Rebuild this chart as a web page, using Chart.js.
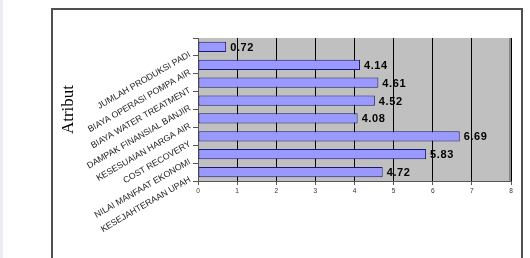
<!DOCTYPE html>
<html>
<head>
<meta charset="utf-8">
<script src="https://cdn.jsdelivr.net/npm/chart.js@4.4.1/dist/chart.umd.min.js"></script>
<style>
  html, body { margin: 0; padding: 0; background: #fff; }
  #wrap { position: relative; width: 530px; height: 258px; overflow: hidden; }
  #strip { position: absolute; left: 0; top: 0; width: 3px; height: 258px; background: #ececf2; }
  #frame { position: absolute; left: 51px; top: 8px; width: 468px; height: 260px; border: 2px solid #505050; }
  #chart { position: absolute; left: 0; top: 0; }
</style>
</head>
<body>
<div id="wrap">
  <div id="strip"></div>
  <div id="frame"></div>
  <canvas id="chart" width="530" height="258"></canvas>
</div>
<script>
// Data
const categories = [
  'JUMLAH PRODUKSI PADI',
  'BIAYA OPERASI POMPA AIR',
  'BIAYA WATER TREATMENT',
  'DAMPAK FINANSIAL BANJIR',
  'KESESUAIAN HARGA AIR',
  'COST RECOVERY',
  'NILAI MANFAAT EKONOMI',
  'KESEJAHTERAAN UPAH'
];
const values = [0.72, 4.14, 4.61, 4.52, 4.08, 6.69, 5.83, 4.72];
const xTicks = [0, 1, 2, 3, 4, 5, 6, 7, 8];

// Gray plot background
const plotBg = {
  id: 'plotBg',
  beforeDraw(chart) {
    const { ctx, chartArea: a } = chart;
    ctx.save();
    ctx.fillStyle = '#c0c0c0';
    ctx.fillRect(a.left, a.top, a.right - a.left, a.bottom - a.top);
    ctx.fillStyle = '#8a8a8a';
    ctx.fillRect(a.right - 2, a.top, 2, a.bottom - a.top);
    ctx.restore();
  }
};

// Value labels at the end of each bar
const valueLabels = {
  id: 'valueLabels',
  afterDatasetsDraw(chart) {
    const { ctx } = chart;
    const meta = chart.getDatasetMeta(0);
    ctx.save();
    ctx.font = 'bold 11px "Liberation Sans", Arial, sans-serif';
    ctx.letterSpacing = '0.6px';
    ctx.fillStyle = '#000';
    ctx.textAlign = 'left';
    ctx.textBaseline = 'middle';
    meta.data.forEach((bar, i) => {
      ctx.fillText(values[i].toFixed(2), bar.x + 4, bar.y + 1);
    });
    ctx.restore();
  }
};

new Chart(document.getElementById('chart'), {
  type: 'bar',
  data: {
    labels: categories,
    datasets: [{
      data: values,
      backgroundColor: '#9999ff',
      borderColor: '#1a1a70',
      borderWidth: 1,
      borderSkipped: false,
      barPercentage: 0.58,
      categoryPercentage: 1
    }]
  },
  options: {
    indexAxis: 'y',
    responsive: false,
    animation: false,
    layout: { padding: { left: 54, top: 38, right: 19, bottom: 57 } },
    plugins: {
      legend: { display: false },
      tooltip: { enabled: false }
    },
    scales: {
      x: {
        min: 0,
        max: 8,
        afterFit: scale => { scale.height = 20; },
        afterBuildTicks: scale => { scale.ticks = xTicks.map(v => ({ value: v })); },
        border: { color: '#555', width: 1 },
        grid: {
          color: '#000',
          lineWidth: 1,
          tickColor: '#555',
          tickLength: 4
        },
        ticks: {
          color: '#333',
          padding: 2,
          font: { family: '"Liberation Sans", Arial, sans-serif', size: 6.5 }
        }
      },
      y: {
        afterFit: scale => { scale.width = 144; },
        border: { color: '#555', width: 1 },
        grid: {
          offset: true,
          drawOnChartArea: false,
          tickColor: '#555',
          tickLength: 5
        },
        ticks: {
          color: '#222',
          minRotation: 30,
          maxRotation: 30,
          padding: 3,
          labelOffset: 7,
          font: { family: '"Liberation Sans", Arial, sans-serif', size: 8.8 }
        },
        title: {
          display: true,
          text: 'Atribut',
          color: '#000',
          padding: { top: 4, bottom: 4 },
          font: { family: '"Liberation Serif", "Times New Roman", serif', size: 17 }
        }
      }
    }
  },
  plugins: [plotBg, valueLabels]
});
</script>
</body>
</html>
